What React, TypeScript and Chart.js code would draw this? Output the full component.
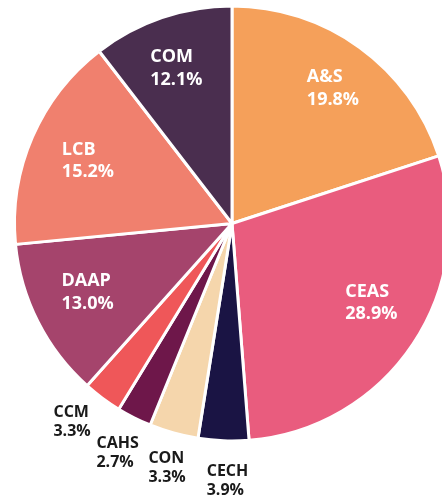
import React, { useEffect, useRef } from "react";
import { Chart, registerables } from "chart.js";

Chart.register(...registerables);

const categories = ["A&S", "CEAS", "CECH", "CON", "CAHS", "CCM", "DAAP", "LCB", "COM"];
// slice sizes as drawn in the picture (percent of the circle)
const sliceShares = [19.97, 28.78, 3.75, 3.64, 2.58, 2.89, 11.86, 16.08, 10.45];
const valueLabels = ["19.8%", "28.9%", "3.9%", "3.3%", "2.7%", "3.3%", "13.0%", "15.2%", "12.1%"];
const colors = ["#F5A05A", "#E95C7E", "#1A1444", "#F5D6AC", "#6E174A", "#EF5759", "#A5446C", "#F0806E", "#4A2E4F"];
const insideLabel = [true, true, false, false, false, false, true, true, true];
// label placement: fraction of radius and angle shift (degrees) from slice middle
const labelRadius = [0.775, 0.737, 1.184, 1.161, 1.179, 1.171, 0.736, 0.722, 0.758];
const labelAngleShift = [0.85, -4.1, -1.25, -0.65, -0.25, 2.3, 1.35, 0.05, -0.9];

const labelPlugin = {
  id: "sliceLabels",
  afterDraw(chart: any) {
    const ctx = chart.ctx;
    const meta = chart.getDatasetMeta(0);
    meta.data.forEach((arc: any, i: number) => {
      const { x, y, startAngle, endAngle, outerRadius } = arc.getProps(
        ["x", "y", "startAngle", "endAngle", "outerRadius"],
        true
      );
      const mid = (startAngle + endAngle) / 2 + (labelAngleShift[i] * Math.PI) / 180;
      const r = outerRadius * labelRadius[i];
      const px = x + Math.cos(mid) * r;
      const py = y + Math.sin(mid) * r;
      const inside = insideLabel[i];
      const size = inside ? 18 : 16;
      const lh = inside ? 22.5 : 19;
      ctx.save();
      ctx.font = `bold ${size}px "Open Sans"`;
      ctx.fillStyle = inside ? "#ffffff" : "#1a1a1a";
      ctx.textBaseline = "middle";
      ctx.textAlign = "left";
      const lines = [categories[i], valueLabels[i]];
      const w = Math.max(...lines.map((l) => ctx.measureText(l).width));
      const left = px - w / 2;
      lines.forEach((l, k) => {
        ctx.fillText(l, left, py + (k - 0.5) * lh);
      });
      ctx.restore();
    });
  },
};

export default function App() {
  const ref = useRef<HTMLCanvasElement>(null);
  useEffect(() => {
    if (!ref.current) return;
    const chart = new Chart(ref.current, {
      type: "pie",
      data: {
        labels: categories,
        datasets: [
          {
            data: sliceShares,
            backgroundColor: colors,
            borderColor: "#ffffff",
            borderWidth: 3,
          },
        ],
      },
      options: {
        responsive: false,
        animation: false,
        devicePixelRatio: 1,
        layout: { padding: { top: 4.5, bottom: 53.5, left: 4, right: 4 } },
        plugins: { legend: { display: false }, tooltip: { enabled: false } },
      },
      plugins: [labelPlugin],
    });
    return () => chart.destroy();
  }, []);
  return (
    <div
      style={{
        position: "absolute",
        left: 0,
        top: 0,
        width: 442,
        height: 496,
        overflow: "hidden",
        background: "#fff",
      }}
    >
      <canvas ref={ref} width={464} height={496} style={{ display: "block" }} />
    </div>
  );
}
